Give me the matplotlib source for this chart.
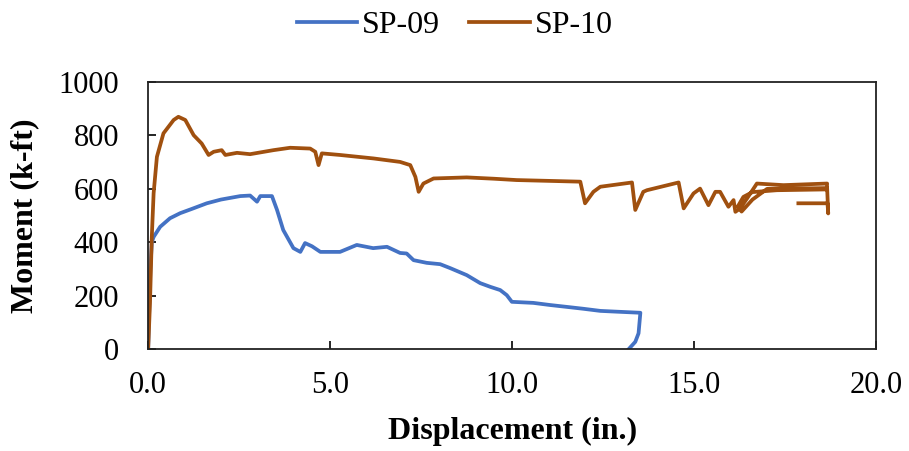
import matplotlib.pyplot as plt

# SP-09 curve (displacement in., moment k-ft)
sp09_x = [0.0, 0.03, 0.06, 0.1, 0.15, 0.33, 0.6, 0.88, 1.2, 1.61, 2.0, 2.53, 2.8, 2.99, 3.08, 3.4,
          3.54, 3.71, 3.99, 4.18, 4.31, 4.5, 4.73, 5.27, 5.73, 6.18, 6.56, 6.92, 7.1, 7.29, 7.65,
          8.02, 8.3, 8.75, 9.12, 9.4, 9.67, 9.85, 9.99, 10.58, 11.04, 11.5, 11.95, 12.42, 12.88,
          13.52, 13.47, 13.38, 13.2]
sp09_y = [0, 150, 300, 400, 420, 458, 490, 509, 525, 546, 560, 573, 575, 552, 573, 573,
          521, 446, 378, 364, 397, 385, 364, 364, 390, 378, 383, 360, 358, 333, 323,
          318, 303, 277, 247, 233, 221, 202, 177, 173, 165, 158, 151, 143, 140,
          136, 59, 27, 0]

# SP-10 curve
sp10_x = [0.0, 0.05, 0.1, 0.15, 0.24, 0.42, 0.7, 0.83, 1.02, 1.25, 1.47, 1.66, 1.8, 2.02, 2.12,
          2.44, 2.8, 3.44, 3.9, 4.45, 4.59, 4.68, 4.77, 5.27, 6.19, 6.92, 7.2, 7.34, 7.43, 7.56,
          7.84, 8.75, 9.5, 10.12, 11.0, 11.87, 12.0, 12.23, 12.42, 13.29, 13.38, 13.6, 13.7,
          14.57, 14.71, 14.98, 15.16, 15.39, 15.58, 15.71, 15.94, 16.08, 16.13, 16.26, 16.45,
          16.72, 17.45, 18.65, 18.64, 17.27, 16.6, 16.35, 16.2, 16.3, 16.6, 17.0, 18.65,
          18.68, 18.66, 17.86]
sp10_y = [0, 172, 421, 584, 720, 808, 858, 870, 858, 801, 770, 727, 739, 745, 727,
          735, 730, 745, 754, 751, 739, 689, 733, 727, 714, 701, 689, 645, 589, 620,
          639, 643, 638, 633, 630, 627, 546, 589, 608, 624, 521, 589, 595,
          624, 527, 583, 601, 539, 589, 589, 533, 558, 514, 527, 564,
          620, 614, 620, 598, 595, 588, 570, 535, 515, 560, 600, 603,
          508, 546, 546]

x_ticks = [0, 5, 10, 15, 20]
x_ticklabels = ['0.0', '5.0', '10.0', '15.0', '20.0']
y_ticks = [0, 200, 400, 600, 800, 1000]

plt.rcParams['font.family'] = ['Liberation Serif', 'DejaVu Serif']

fig = plt.figure(figsize=(9.09, 4.51), dpi=100)
ax = fig.add_axes([0.163, 0.226, 0.801, 0.592])

ax.plot(sp09_x, sp09_y, color='#4472C4', lw=2.7, label='SP-09')
ax.plot(sp10_x, sp10_y, color='#A0500F', lw=2.7, label='SP-10')

ax.set_xlim(0, 20)
ax.set_ylim(0, 1000)
ax.set_xticks(x_ticks)
ax.set_xticklabels(x_ticklabels)
ax.set_yticks(y_ticks)
ax.tick_params(direction='in', length=6, width=1.2, labelsize=22)
ax.tick_params(axis='x', pad=16)
ax.tick_params(axis='y', pad=21)
for s in ax.spines.values():
    s.set_linewidth(1.3)
    s.set_color('#222222')

ax.set_xlabel('Displacement (in.)', fontsize=23, fontweight='bold', labelpad=12)
ax.set_ylabel('Moment (k-ft)', fontsize=23, fontweight='bold', labelpad=14)

fig.legend(loc='upper center', bbox_to_anchor=(0.5, 1.04), ncol=2, frameon=False,
           fontsize=23, handlelength=1.9, handletextpad=0.15, columnspacing=0.9)

fig.savefig('out.png', dpi=100)
